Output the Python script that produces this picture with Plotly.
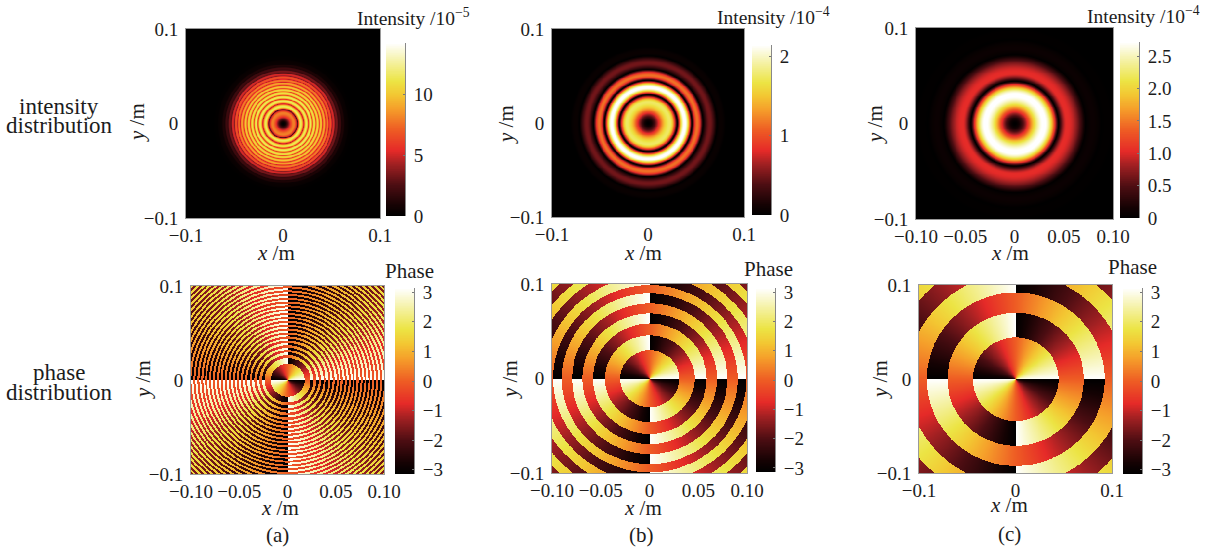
import numpy as np
import plotly.graph_objects as go

W, H = 1223, 548

# Colour scale
COLORSCALE = [[0, "#000000"], [0.06, "#140203"], [0.18, "#4c0d12"], [0.30, "#a02022"],
              [0.38, "#e52a28"], [0.50, "#ee5c24"], [0.62, "#f59e2a"], [0.70, "#f3c632"],
              [0.78, "#ece444"], [0.90, "#f5f2a8"], [1, "#ffffff"]]

# Radial intensity: extrema radii (m) and values
INT_A_R = [0, .0113, .0150, .0180, .0211, .0237, .0260, .0282, .0301, .0320, .0337, .0355, .0372,
           .0389, .0405, .0423, .0439, .0456, .0472, .0489, .0504, .0521, .0536, .0553, .0568,
           .0585, .0600, .0616, .0632, .0649, .0680, .0720]
INT_A_V = [0, 8, 2.5, 11.5, 4.5, 11.5, 5.5, 11.5, 6, 11, 6, 10.5, 6,
           10, 5.5, 9, 5, 8, 4.5, 6.8, 3.8, 5.2, 2.8, 3.4, 1.8, 2.1, 1.0, 1.1, .45, .4, .1, 0]
INT_B_R = [0, .0225, .0302, .0380, .0455, .0510, .0570, .0640, .0715, .0755, .0810, .0900]
INT_B_V = [0, 1.75, 0, 2.17, 0, 1.15, 0, .5, 0, .06, 0, 0]
INT_C_R = [0, .0300, .0445, .0530, .0720, .0790, .0880, .0940, .1000]
INT_C_V = [0, 2.75, 0, 1.05, .01, .09, 0, .02, 0]

# Radii (m) at which the phase jumps by pi
JUMPS_A = [.0175, .0237, .0268, .0296, .0320, .0344, .0371, .0394, .0423, .0442, .0464, .0485,
           .0508, .0528, .0549, .0570, .0591, .0611, .0632, .0653, .0673, .0694, .0714, .0735,
           .0755, .0775, .0795, .0814, .0835, .0856, .0875, .0896, .0915, .0936, .0956, .0976,
           .0996, .1016, .1036, .1056, .1076, .1096, .1116, .1136, .1156, .1176, .1196, .1216,
           .1236, .1256, .1276, .1296, .1316, .1336, .1356, .1376, .1396, .1416, .1436]
JUMPS_B = [.0302, .0460, .0584, .0690, .0796, .0902, .0989, .1085, .1180, .1270, .1360, .1450]
JUMPS_C = [.0445, .0707, .0922, .1120, .1305, .1480]
CHARGE = 2

X_TICKS_NARROW = [-0.1, 0, 0.1]
X_TEXT_NARROW = ["\u22120.1", "0", "0.1"]
X_TICKS_WIDE = [-0.10, -0.05, 0, 0.05, 0.10]
X_TEXT_WIDE = ["\u22120.10", "\u22120.05", "0", "0.05", "0.10"]
Y_TICKS = [-0.1, 0, 0.1]
Y_TEXT = ["\u22120.1", "0", "0.1"]
PHASE_TICKS = [-3, -2, -1, 0, 1, 2, 3]
PHASE_TEXT = ["\u22123", "\u22122", "\u22121", "0", "1", "2", "3"]
BAR_A = [0, 5, 10]
BAR_A_TEXT = ["0", "5", "10"]
BAR_B = [0, 1, 2]
BAR_B_TEXT = ["0", "1", "2"]
BAR_C = [0, 0.5, 1.0, 1.5, 2.0, 2.5]
BAR_C_TEXT = ["0", "0.5", "1.0", "1.5", "2.0", "2.5"]

FONT = "Liberation Serif"
INK = "#1c1c1c"
FRAME = "#9a9a9a"
TICK_SIZE = 19
LABEL_SIZE = 21
ROW_SIZE = 23
TITLE_SIZE = 19.5

N = 400
gx = np.linspace(-0.1, 0.1, N)
gy = np.linspace(-0.1, 0.1, N)
XX, YY = np.meshgrid(gx, gy)
RR = np.hypot(XX, YY)
TH = np.arctan2(YY, XX)


def radial(rk, vk):
    """Join the read extrema: flat at the peaks, steep at the narrow dark rings."""
    rk = np.array(rk)
    vk = np.array(vk)
    i = np.clip(np.searchsorted(rk, RR) - 1, 0, len(rk) - 2)
    t = np.clip((RR - rk[i]) / (rk[i + 1] - rk[i]), 0, 1)
    rising = vk[i + 1] > vk[i]
    e = np.where(rising, np.sin(np.pi * t / 2), 1 - np.cos(np.pi * t / 2))
    e = np.where(i == 0, (1 - np.cos(np.pi * t)) / 2, e)
    return vk[i] + (vk[i + 1] - vk[i]) * e


def phase(jumps):
    k = np.searchsorted(np.array(jumps), RR)
    p = -CHARGE * TH + np.pi * (k + 1)
    return np.angle(np.exp(1j * p))


def px(x):
    return x / W


def py(y):
    return 1 - y / H


panels = [
    dict(z=radial(INT_A_R, INT_A_V), box=(186, 380, 29, 218), bar=(386, 405, 43, 216), zr=(0, 14.2),
         tv=BAR_A, tt=BAR_A_TEXT, xv=X_TICKS_NARROW, xt=X_TEXT_NARROW),
    dict(z=radial(INT_B_R, INT_B_V), box=(552, 744, 29, 217), bar=(752, 771, 45, 215), zr=(0, 2.14),
         tv=BAR_B, tt=BAR_B_TEXT, xv=X_TICKS_NARROW, xt=X_TEXT_NARROW),
    dict(z=radial(INT_C_R, INT_C_V), box=(916, 1113, 28, 219), bar=(1120, 1139, 42, 218), zr=(0, 2.72),
         tv=BAR_C, tt=BAR_C_TEXT, xv=X_TICKS_WIDE, xt=X_TEXT_WIDE),
    dict(z=phase(JUMPS_A), box=(191, 384, 286, 474), bar=(395, 414, 288, 474), zr=(-np.pi, np.pi),
         tv=PHASE_TICKS, tt=PHASE_TEXT, xv=X_TICKS_WIDE, xt=X_TEXT_WIDE),
    dict(z=phase(JUMPS_B), box=(552, 747, 284, 473), bar=(756, 775, 288, 472), zr=(-np.pi, np.pi),
         tv=PHASE_TICKS, tt=PHASE_TEXT, xv=X_TICKS_WIDE, xt=X_TEXT_WIDE),
    dict(z=phase(JUMPS_C), box=(919, 1112, 285, 473), bar=(1123, 1142, 288, 474), zr=(-np.pi, np.pi),
         tv=PHASE_TICKS, tt=PHASE_TEXT, xv=X_TICKS_NARROW, xt=X_TEXT_NARROW),
]

fig = go.Figure()
layout = dict(width=W, height=H, autosize=False, margin=dict(l=0, r=0, t=0, b=0),
              paper_bgcolor="white", plot_bgcolor="black", showlegend=False,
              font=dict(family=FONT, size=TICK_SIZE, color=INK))
tickfont = dict(family=FONT, size=TICK_SIZE, color=INK)
for i, p in enumerate(panels):
    l, r, t, b = p["box"]
    bl, br, bt, bb = p["bar"]
    a = 2 * i + 1
    c = 2 * i + 2
    sa = "" if a == 1 else str(a)
    sc = str(c)
    # the map
    fig.add_trace(go.Heatmap(x=gx, y=gy, z=p["z"], zmin=p["zr"][0], zmax=p["zr"][1], colorscale=COLORSCALE,
                             zsmooth="best", xaxis="x" + sa, yaxis="y" + sa, hoverinfo="skip", showscale=False))
    layout["xaxis" + sa] = dict(domain=[px(l), px(r)], anchor="y" + sa, range=[-0.1, 0.1], automargin=False,
                                tickvals=p["xv"], ticktext=p["xt"], ticks="", showgrid=False, zeroline=False,
                                showline=True, linecolor=FRAME, linewidth=1, mirror=True, tickfont=tickfont)
    layout["yaxis" + sa] = dict(domain=[py(b), py(t)], anchor="x" + sa, range=[-0.1, 0.1], automargin=False,
                                tickvals=Y_TICKS, ticktext=Y_TEXT, ticks="", showgrid=False, zeroline=False,
                                showline=True, linecolor=FRAME, linewidth=1, mirror=True, tickfont=tickfont,
                                ticklabelstandoff=3)
    # the colour bar, drawn on its own value axis
    levels = np.linspace(p["zr"][0], p["zr"][1], 256)
    fig.add_trace(go.Heatmap(x=[0, 1], y=levels, z=np.column_stack([levels, levels]),
                             zmin=p["zr"][0], zmax=p["zr"][1], colorscale=COLORSCALE,
                             zsmooth="best", xaxis="x" + sc, yaxis="y" + sc, hoverinfo="skip", showscale=False))
    layout["xaxis" + sc] = dict(domain=[px(bl), px(br)], anchor="y" + sc, range=[0, 1], visible=False, automargin=False)
    layout["yaxis" + sc] = dict(domain=[py(bb), py(bt)], anchor="x" + sc, side="right", range=list(p["zr"]),
                                automargin=False, tickvals=p["tv"], ticktext=p["tt"], ticks="inside", ticklen=2,
                                tickcolor="#777777", showgrid=False, zeroline=False, showline=True,
                                linecolor="#888888", linewidth=1, tickfont=tickfont, ticklabelstandoff=4)

TEXTS = [
    ("intensity", 59, 106, 0, ROW_SIZE), ("distribution", 59, 125, 0, ROW_SIZE),
    ("phase", 59, 372, 0, ROW_SIZE), ("distribution", 59, 392, 0, ROW_SIZE),
    ("<i>y</i> /m", 137, 123, -90, LABEL_SIZE), ("<i>x</i> /m", 276, 253, 0, LABEL_SIZE),
    ("Intensity /10<sup>\u22125</sup>", 413, 17, 0, TITLE_SIZE),
    ("<i>y</i> /m", 143, 380, -90, LABEL_SIZE), ("<i>x</i> /m", 280, 508, 0, LABEL_SIZE),
    ("Phase", 409, 271, 0, LABEL_SIZE), ("(a)", 277, 535, 0, LABEL_SIZE),
    ("<i>y</i> /m", 506, 125, -90, LABEL_SIZE), ("<i>x</i> /m", 643, 253, 0, LABEL_SIZE),
    ("Intensity /10<sup>\u22124</sup>", 773, 16, 0, TITLE_SIZE),
    ("<i>y</i> /m", 510, 380, -90, LABEL_SIZE), ("<i>x</i> /m", 643, 508, 0, LABEL_SIZE),
    ("Phase", 768, 269, 0, LABEL_SIZE), ("(b)", 641, 535, 0, LABEL_SIZE),
    ("<i>y</i> /m", 875, 125, -90, LABEL_SIZE), ("<i>x</i> /m", 1010, 253, 0, LABEL_SIZE),
    ("Intensity /10<sup>\u22124</sup>", 1143, 15, 0, TITLE_SIZE),
    ("<i>y</i> /m", 880, 380, -90, LABEL_SIZE), ("<i>x</i> /m", 1009, 505, 0, LABEL_SIZE),
    ("Phase", 1132, 267, 0, LABEL_SIZE), ("(c)", 1009, 534, 0, LABEL_SIZE),
]
layout["annotations"] = [
    dict(text=s, xref="paper", yref="paper", x=px(x), y=py(y), xanchor="center", yanchor="middle",
         showarrow=False, textangle=a, font=dict(family=FONT, size=sz, color=INK))
    for s, x, y, a, sz in TEXTS
]
fig.update_layout(**layout)
POST = ("document.body.style.margin='0';"
        "var st=document.createElement('style');"
        "st.textContent='.hm image{filter:blur(0.7px);} .x7y7 .hm image{filter:blur(0.55px);}';"
        "document.head.appendChild(st);")
fig.write_html("out.html", post_script=POST, config=dict(displayModeBar=False))
